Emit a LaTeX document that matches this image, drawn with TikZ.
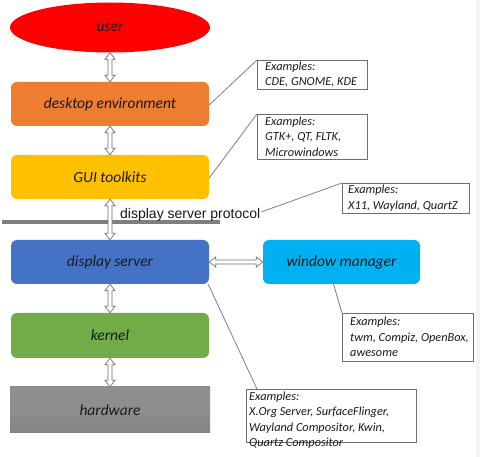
\documentclass[tikz,border=0pt]{standalone}
\usepackage{fontspec}
\setmainfont{Carlito}
\newfontfamily\arialfont{Liberation Sans}
\usetikzlibrary{shapes.geometric,calc}
\definecolor{cuser}{HTML}{FF0000}
\definecolor{cde}{HTML}{ED7D31}
\definecolor{cgui}{HTML}{FFC000}
\definecolor{cds}{HTML}{4472C4}
\definecolor{cwm}{HTML}{00B0F0}
\definecolor{ckern}{HTML}{70AD47}
\definecolor{chw}{HTML}{8E8E8E}
\definecolor{chwdark}{HTML}{848484}
\definecolor{cline}{HTML}{7F7F7F}
\definecolor{carrow}{HTML}{6E6E6E}
\definecolor{ctext}{HTML}{1A1A1A}
\definecolor{cedge}{HTML}{F3F3F3}
\tikzset{
  layer/.style={rectangle, rounded corners=6pt, minimum width=198pt, minimum height=44pt,
    inner sep=0pt, font=\fontsize{15.5}{18}\selectfont\itshape, text=ctext},
  exbox/.style={rectangle, draw=carrow, line width=0.8pt, anchor=north west, inner sep=0pt},
  extext/.style={anchor=base west, inner sep=0pt, align=left,
    font=\frenchspacing\fontsize{12.3}{15.4}\selectfont\itshape, text=ctext},
  dblarr/.style={draw=carrow, fill=white, line width=0.7pt, line join=miter,
    to path={
      (\tikztostart)
      -- ($(\tikztostart)!6.5pt!(\tikztotarget)!5pt!90:(\tikztotarget)$)
      -- ($(\tikztostart)!6.5pt!(\tikztotarget)!2pt!90:(\tikztotarget)$)
      -- ($(\tikztotarget)!6.5pt!(\tikztostart)!2pt!-90:(\tikztostart)$)
      -- ($(\tikztotarget)!6.5pt!(\tikztostart)!5pt!-90:(\tikztostart)$)
      -- (\tikztotarget)
      -- ($(\tikztotarget)!6.5pt!(\tikztostart)!5pt!90:(\tikztostart)$)
      -- ($(\tikztotarget)!6.5pt!(\tikztostart)!2pt!90:(\tikztostart)$)
      -- ($(\tikztostart)!6.5pt!(\tikztotarget)!2pt!-90:(\tikztotarget)$)
      -- ($(\tikztostart)!6.5pt!(\tikztotarget)!5pt!-90:(\tikztotarget)$)
      -- cycle}},
  conn/.style={draw=cline, line width=0.8pt},
}
\begin{document}
\begin{tikzpicture}[x=1pt,y=-1pt]
\useasboundingbox (0,0) rectangle (480,457);
\fill[white] (0,0) rectangle (480,457);
\fill[cedge] (476,0) rectangle (480,457);

\node[ellipse, fill=cuser, minimum width=200pt, minimum height=50pt, inner sep=0pt,
  font=\fontsize{15.5}{18}\selectfont\itshape, text=ctext] (user) at (110,27.5) {user};
\node[layer, fill=cde] (de) at (110,104) {desktop environment};
\node[layer, fill=cgui] (gui) at (110,177) {GUI toolkits};
\node[layer, fill=cds] (ds) at (110,262) {display server};
\node[layer, fill=cwm, minimum width=157pt] (wm) at (341.5,262) {window manager};
\node[layer, fill=ckern, minimum height=45pt] (kern) at (110,335.5) {kernel};
\node[rectangle, minimum width=200pt, minimum height=46pt, inner sep=0pt,
  top color=chw, bottom color=chwdark, middle color=chw,
  font=\fontsize{15.5}{18}\selectfont\itshape, text=ctext] (hw) at (110,410) {hardware};

% protocol separator
\draw[line width=3.5pt, cline] (2,222) -- (220,222);
\node[font=\arialfont\fontsize{14}{16}\selectfont, text=ctext, inner sep=0pt, anchor=base west] (proto) at (120,218.5) {display server protocol};

% double arrows
\path[dblarr] (user.south) to (de.north);
\path[dblarr] (de.south) to (gui.north);
\path[dblarr] (gui.south) to (ds.north);
\path[dblarr] (ds.south) to (kern.north);
\path[dblarr] (kern.south) to (hw.north);
\path[dblarr] (ds.east) to (wm.west);

% example boxes
\node[exbox, minimum width=110pt, minimum height=29pt] (ex1) at (257,60) {};
\node[extext] (ex1t) at ([xshift=8pt,yshift=-25.9pt]ex1.north west) {Examples:\\CDE, GNOME, KDE};
\node[exbox, minimum width=110pt, minimum height=45pt] (ex2) at (257,114) {};
\node[extext] (ex2t) at ([xshift=8pt,yshift=-42.3pt]ex2.north west) {Examples:\\GTK+, QT, FLTK,\\Microwindows};
\node[exbox, minimum width=127pt, minimum height=30pt] (ex3) at (342,183) {};
\node[extext] (ex3t) at ([xshift=6pt,yshift=-26.4pt]ex3.north west) {Examples:\\X11, Wayland, QuartZ};
\node[exbox, minimum width=131pt, minimum height=48pt] (ex4) at (342,313) {};
\node[extext] (ex4t) at ([xshift=8pt,yshift=-43.8pt]ex4.north west) {Examples:\\twm, Compiz, OpenBox,\\awesome};
\node[exbox, minimum width=170pt, minimum height=53pt] (ex5) at (246,389) {};
\node[extext] (ex5t) at ([xshift=3pt,yshift=-57.5pt]ex5.north west) {Examples:\\X.Org Server, SurfaceFlinger,\\Wayland Compositor, Kwin,\\Quartz Compositor};

% connectors
\draw[conn] ([yshift=-1pt]de.east) -- (ex1.north west);
\draw[conn] ([yshift=-1pt]gui.east) -- (ex2.north west);
\draw[conn] ([xshift=1pt,yshift=3pt]proto.east) -- (ex3.north west);
\draw[conn] ([xshift=-8pt]wm.south) -- (ex4.north west);
\draw[conn] ([xshift=-1pt]ds.south east) -- ([xshift=11pt]ex5.north west);
\end{tikzpicture}
\end{document}
